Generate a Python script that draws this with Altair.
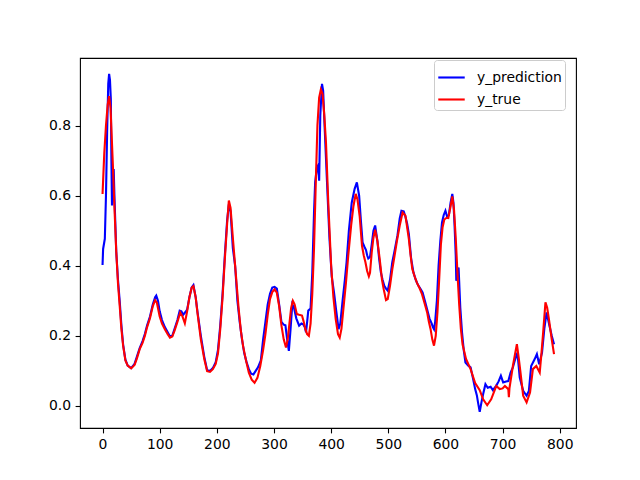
import altair as alt
import pandas as pd

# y_true (red) samples
true_x = [0, 3, 6, 9, 11.5, 14, 18, 21, 24, 27, 30, 33, 36, 40, 44, 50, 56, 60, 65, 70,
          74, 78, 83, 88, 92, 95, 100, 104, 109, 114, 118, 122, 126, 131, 136, 140, 144, 148, 152, 156,
          159, 163, 166, 172, 178, 183, 188, 193, 198, 202, 206, 210, 214, 218, 221, 224, 228, 233, 238, 242,
          246, 251, 256, 261, 266, 271, 276, 281, 285, 289, 293, 297, 301, 305, 309, 313, 317, 321, 324, 327,
          330, 333, 336, 340, 344, 349, 352, 355, 358, 361, 364, 367, 370, 373, 376, 379, 382, 385, 388, 391,
          395, 400, 404, 408, 412, 415, 418, 421, 426, 430, 435, 439, 443, 446, 450, 454, 457, 460, 463, 466,
          468, 471, 474, 477, 481, 485, 489, 492, 496, 499, 503, 507, 511, 515, 520, 525, 530, 533, 536, 539,
          542, 546, 550, 555, 559, 564, 568, 571, 574, 577, 580, 583, 586, 589, 592, 595, 598, 602, 605, 609,
          612, 615, 618, 621, 624, 627, 630, 636, 644, 652, 660, 666, 673, 680, 685, 689, 695, 700, 704, 710,
          711, 712, 718, 722, 725, 728, 731, 736, 742, 748, 753, 759, 765, 768, 771, 775, 778, 781, 786, 790]
true_y = [0.605, 0.72, 0.80, 0.86, 0.884, 0.85, 0.69, 0.56, 0.44, 0.35, 0.286, 0.22, 0.172, 0.13, 0.115, 0.107, 0.117, 0.135, 0.162, 0.18,
          0.20, 0.225, 0.25, 0.285, 0.302, 0.295, 0.255, 0.235, 0.219, 0.205, 0.195, 0.198, 0.215, 0.24, 0.267, 0.255, 0.236, 0.27, 0.31, 0.338,
          0.342, 0.31, 0.267, 0.19, 0.134, 0.099, 0.097, 0.105, 0.12, 0.15, 0.22, 0.31, 0.42, 0.52, 0.586, 0.565, 0.48, 0.38, 0.28, 0.215,
          0.17, 0.13, 0.095, 0.075, 0.066, 0.08, 0.114, 0.16, 0.205, 0.26, 0.305, 0.325, 0.333, 0.323, 0.285, 0.23, 0.19, 0.167, 0.19, 0.235,
          0.28, 0.30, 0.29, 0.262, 0.26, 0.258, 0.24, 0.219, 0.205, 0.20, 0.235, 0.32, 0.448, 0.63, 0.80, 0.88, 0.903, 0.89, 0.83, 0.75,
          0.58, 0.40, 0.31, 0.248, 0.205, 0.195, 0.22, 0.27, 0.353, 0.43, 0.515, 0.57, 0.605, 0.59, 0.54, 0.457, 0.43, 0.41, 0.385, 0.37,
          0.38, 0.438, 0.48, 0.503, 0.47, 0.419, 0.36, 0.333, 0.302, 0.305, 0.343, 0.39, 0.429, 0.47, 0.515, 0.552, 0.543, 0.51, 0.476, 0.43,
          0.391, 0.37, 0.352, 0.335, 0.319, 0.29, 0.267, 0.24, 0.219, 0.19, 0.172, 0.20, 0.267, 0.36, 0.46, 0.51, 0.532, 0.537, 0.536, 0.57,
          0.598, 0.56, 0.48, 0.38, 0.29, 0.22, 0.175, 0.134, 0.105, 0.065, 0.045, 0.019, 0.002, 0.019, 0.04, 0.057, 0.048, 0.05, 0.057, 0.048,
          0.025, 0.05, 0.114, 0.15, 0.176, 0.14, 0.10, 0.029, 0.01, 0.038, 0.105, 0.114, 0.095, 0.15, 0.21, 0.296, 0.28, 0.248, 0.19, 0.148]

# y_prediction (blue) samples
pred_x = [0, 1, 4, 6, 8, 10, 11.5, 13, 14.5, 15.5, 16.5, 18, 19.5, 21, 24, 27, 30, 33, 36, 40,
          44, 50, 56, 60, 65, 70, 74, 78, 83, 88, 92, 94, 97, 100, 104, 109, 114, 118, 122, 126,
          131, 135, 138, 141, 145, 148, 152, 156, 159, 163, 166, 172, 178, 183, 188, 193, 198, 202, 206, 210,
          214, 218, 221, 224, 228, 232, 236, 240, 244, 248, 252, 256, 260, 264, 268, 272, 277, 281, 285, 289,
          293, 297, 301, 305, 309, 313, 317, 320, 323, 326, 329, 332, 335, 339, 344, 348, 351, 354, 356, 358,
          360, 364, 367, 370, 372, 375, 377, 379, 381, 384, 386, 389, 393, 397, 401, 405, 409, 413, 416, 420,
          424, 427, 431, 436, 441, 445, 449, 452, 455, 458, 461, 463, 465, 468, 471, 474, 477, 481, 484, 487,
          490, 493, 496, 499, 503, 507, 511, 516, 520, 523, 527, 530, 533, 536, 540, 544, 548, 552, 556, 560,
          564, 568, 572, 576, 578, 580, 582, 585, 588, 591, 594, 597, 600, 603, 606, 609, 612, 614, 616, 618,
          619, 621, 623, 626, 629, 632, 635, 640, 644, 648, 652, 655, 657, 660, 663, 666, 670, 674, 679, 683,
          689, 693, 697, 701, 706, 710, 714, 718, 722, 726, 730, 736, 742, 746, 750, 756, 760, 764, 769, 773,
          777, 782, 786, 790]
pred_y = [0.402, 0.448, 0.477, 0.60, 0.781, 0.92, 0.948, 0.93, 0.876, 0.70, 0.572, 0.60, 0.676, 0.59, 0.44, 0.36, 0.30, 0.23, 0.175, 0.132,
          0.115, 0.108, 0.12, 0.14, 0.165, 0.185, 0.205, 0.23, 0.255, 0.29, 0.31, 0.315, 0.30, 0.27, 0.245, 0.225, 0.21, 0.198, 0.20, 0.22,
          0.245, 0.272, 0.27, 0.26, 0.268, 0.275, 0.31, 0.338, 0.345, 0.31, 0.27, 0.20, 0.14, 0.102, 0.10, 0.108, 0.125, 0.16, 0.23, 0.32,
          0.43, 0.53, 0.575, 0.555, 0.45, 0.40, 0.30, 0.24, 0.19, 0.15, 0.125, 0.105, 0.092, 0.09, 0.10, 0.11, 0.13, 0.19, 0.24, 0.29,
          0.32, 0.338, 0.34, 0.335, 0.29, 0.24, 0.232, 0.23, 0.19, 0.157, 0.22, 0.29, 0.28, 0.25, 0.229, 0.235, 0.233, 0.225, 0.21, 0.24,
          0.272, 0.278, 0.38, 0.55, 0.638, 0.68, 0.686, 0.643, 0.829, 0.919, 0.90, 0.781, 0.63, 0.48, 0.37, 0.324, 0.27, 0.219, 0.235, 0.30,
          0.36, 0.41, 0.50, 0.58, 0.619, 0.638, 0.60, 0.53, 0.467, 0.455, 0.445, 0.43, 0.421, 0.425, 0.46, 0.50, 0.515, 0.47, 0.42, 0.381,
          0.36, 0.343, 0.335, 0.329, 0.36, 0.41, 0.443, 0.486, 0.535, 0.557, 0.555, 0.54, 0.52, 0.49, 0.42, 0.381, 0.36, 0.345, 0.335, 0.324,
          0.30, 0.275, 0.25, 0.235, 0.225, 0.219, 0.24, 0.30, 0.40, 0.47, 0.524, 0.545, 0.557, 0.54, 0.545, 0.58, 0.605, 0.58, 0.514, 0.43,
          0.357, 0.38, 0.395, 0.28, 0.21, 0.16, 0.124, 0.115, 0.11, 0.08, 0.048, 0.03, 0.01, -0.017, 0.01, 0.034, 0.062, 0.052, 0.055, 0.045,
          0.058, 0.07, 0.086, 0.067, 0.07, 0.071, 0.095, 0.11, 0.133, 0.152, 0.081, 0.043, 0.029, 0.043, 0.114, 0.133, 0.148, 0.119, 0.152, 0.22,
          0.267, 0.229, 0.20, 0.176]

series_names = ["y_prediction", "y_true"]
series_colors = ["blue", "red"]
x_ticks = [0, 100, 200, 300, 400, 500, 600, 700, 800]
y_ticks = [0.0, 0.2, 0.4, 0.6, 0.8]

df = pd.concat([
    pd.DataFrame({"x": pred_x, "y": pred_y, "series": "y_prediction", "i": range(len(pred_x))}),
    pd.DataFrame({"x": true_x, "y": true_y, "series": "y_true", "i": range(len(true_x))}),
], ignore_index=True)

FONT = "DejaVu Sans"
FS = 13.9

color = alt.Color(
    "series:N",
    scale=alt.Scale(domain=series_names, range=series_colors),
    legend=alt.Legend(
        title=None, orient="none", legendX=354, legendY=2,
        symbolType="stroke", symbolSize=700, symbolStrokeWidth=2.1,
        labelFont=FONT, labelFontSize=FS, labelColor="black",
        fillColor="white", strokeColor="#cccccc", cornerRadius=3,
        padding=3, rowPadding=0, labelOffset=11,
    ),
)

xenc = alt.X("x:Q", scale=alt.Scale(domain=[-39.45, 828.45], nice=False, zero=False),
             axis=alt.Axis(values=x_ticks, format="d", title=None))
yenc = alt.Y("y:Q", scale=alt.Scale(domain=[-0.063, 0.993], nice=False, zero=False),
             axis=alt.Axis(values=y_ticks, format=".1f", title=None))

base = alt.Chart(df)
blue = base.transform_filter(alt.datum.series == "y_prediction").mark_line(strokeWidth=2.1, clip=True).encode(
    x=xenc, y=yenc, color=color, order="i:Q")
red = base.transform_filter(alt.datum.series == "y_true").mark_line(strokeWidth=2.1, clip=True).encode(
    x=xenc, y=yenc, color=color, order="i:Q")

chart = alt.layer(blue, red).properties(
    width=496, height=370,
    autosize=alt.AutoSizeParams(type="none"),
    padding={"left": 80, "top": 58, "right": 64, "bottom": 52},
    background="white",
).configure_view(
    stroke="black", strokeWidth=1.1,
).configure_axis(
    domain=False, grid=False, ticks=True, tickSize=4.9, tickWidth=1.1, tickColor="black",
    labelFont=FONT, labelFontSize=FS, labelColor="black", labelPadding=4.5,
)

chart.save("out.html", embed_options={"renderer": "svg", "actions": False})
